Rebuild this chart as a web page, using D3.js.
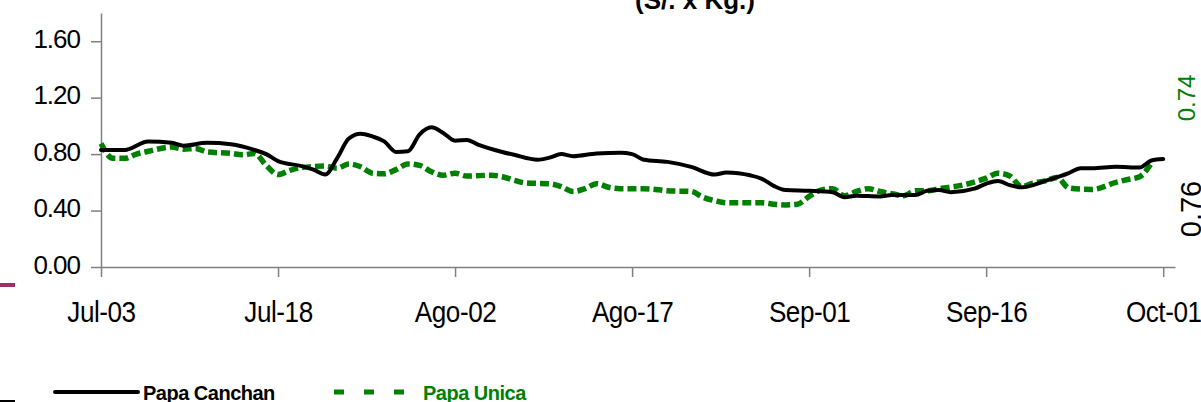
<!DOCTYPE html>
<html>
<head>
<meta charset="utf-8">
<script src="https://cdn.jsdelivr.net/npm/d3@7"></script>
<style>
  body { margin: 0; background: #fff; }
  svg { display: block; font-family: "Liberation Sans", Arial, sans-serif; }
</style>
</head>
<body>
<div id="main"></div>
<script>
// data (month-day)
const canchanDates = ['07-03','07-05','07-07','07-09','07-10','07-12','07-14','07-16','07-17','07-18',
  '07-20','07-21','07-22','07-23','07-24','07-25','07-26','07-27','07-28','07-29','07-30','07-31',
  '08-01','08-02','08-03','08-04','08-06','08-07','08-09','08-10','08-11','08-12','08-14','08-16',
  '08-17','08-18','08-20','08-22','08-24','08-25','08-26','08-27','08-28','08-29','08-30','09-01',
  '09-03','09-04','09-05','09-07','09-08','09-10','09-11','09-12','09-13','09-15','09-16','09-17',
  '09-18','09-19','09-21','09-23','09-24','09-25','09-27','09-29','09-30','10-01'];
const canchanValues = [0.83,0.83,0.89,0.88,0.86,0.88,0.87,0.83,0.80,0.75,
  0.715,0.69,0.655,0.77,0.91,0.945,0.925,0.89,0.815,0.82,0.94,0.99,
  0.95,0.895,0.90,0.865,0.815,0.795,0.76,0.775,0.80,0.785,0.805,0.81,
  0.80,0.76,0.745,0.71,0.655,0.67,0.665,0.65,0.625,0.575,0.545,0.54,
  0.53,0.495,0.505,0.50,0.51,0.51,0.54,0.545,0.53,0.555,0.59,0.61,
  0.58,0.565,0.61,0.665,0.70,0.70,0.71,0.705,0.755,0.765];

const unicaDates = ['07-03','07-04','07-05','07-06','07-07','07-09','07-10','07-11','07-12','07-14',
  '07-15','07-16','07-17','07-18','07-19','07-20','07-22','07-23','07-24','07-25','07-26','07-27',
  '07-28','07-29','07-30','07-31','08-01','08-02','08-03','08-05','08-06','08-07','08-08','08-10',
  '08-11','08-12','08-13','08-14','08-15','08-16','08-18','08-19','08-20','08-22','08-23','08-24',
  '08-25','08-27','08-28','08-29','08-30','08-31','09-01','09-02','09-03','09-04','09-05','09-06',
  '09-07','09-08','09-09','09-10','09-11','09-12','09-14','09-16','09-17','09-18','09-19','09-20',
  '09-21','09-22','09-23','09-24','09-25','09-27','09-28','09-29','09-30'];
const unicaValues = [0.875,0.77,0.77,0.80,0.82,0.85,0.835,0.84,0.815,0.805,
  0.795,0.805,0.72,0.655,0.685,0.705,0.715,0.70,0.73,0.71,0.665,0.66,
  0.69,0.73,0.72,0.675,0.65,0.665,0.645,0.65,0.64,0.615,0.595,0.59,
  0.57,0.535,0.555,0.59,0.565,0.555,0.555,0.55,0.54,0.535,0.495,0.47,
  0.455,0.455,0.455,0.445,0.44,0.445,0.50,0.545,0.555,0.505,0.535,0.555,
  0.535,0.52,0.505,0.54,0.54,0.555,0.58,0.63,0.665,0.645,0.57,0.595,
  0.61,0.635,0.56,0.552,0.55,0.60,0.62,0.64,0.735];

const tickDates = ['07-03','07-18','08-02','08-17','09-01','09-16','10-01'];
const tickLabels = ['Jul-03','Jul-18','Ago-02','Ago-17','Sep-01','Sep-16','Oct-01'];
const yTicks = [0, 0.4, 0.8, 1.2, 1.6];

const W = 1201, H = 402;
const parse = d3.timeParse('%m-%d');

const svg = d3.select('#main').append('svg')
  .attr('width', W).attr('height', H);

// scales
const x = d3.scaleTime()
  .domain([parse('07-03'), parse('10-02')])
  .range([101, 1175]);
const y = d3.scaleLinear()
  .domain([0, 1.8])
  .range([267, 13]);

// title (cut off at the top, as in the source)
svg.append('text')
  .attr('x', 695).attr('y', 9)
  .attr('text-anchor', 'middle')
  .style('font-size', '26px').style('font-weight', 'bold')
  .text('(S/. x Kg.)');

// axes
const xAxis = svg.append('g')
  .attr('transform', `translate(0,${y(0)})`)
  .call(d3.axisBottom(x)
    .tickValues(tickDates.map(parse))
    .tickFormat((d, i) => tickLabels[i])
    .tickSize(10).tickSizeOuter(0));
xAxis.selectAll('text')
  .attr('y', 55).attr('dy', null)
  .attr('transform', 'scale(0.9,1)')
  .style('font-size', '29px').style('fill', '#000')
  .style('letter-spacing', '-0.5px');

const yAxis = svg.append('g')
  .attr('transform', `translate(${x(parse('07-03'))},0)`)
  .call(d3.axisLeft(y)
    .tickValues(yTicks)
    .tickFormat(d3.format('.2f'))
    .tickSize(10).tickSizeOuter(0));
yAxis.selectAll('text')
  .attr('x', -21).attr('y', 6).attr('dy', null)
  .style('font-size', '26px').style('fill', '#000')
  .style('letter-spacing', '-1px');

svg.selectAll('.domain, .tick line')
  .attr('stroke', '#808080').attr('stroke-width', 1.5);

// lines
const line = d3.line()
  .x((d) => x(d.date))
  .y((d) => y(d.value))
  .curve(d3.curveMonotoneX);

const canchan = canchanDates.map((d, i) => ({ date: parse(d), value: canchanValues[i] }));
const unica = unicaDates.map((d, i) => ({ date: parse(d), value: unicaValues[i] }));

svg.append('path')
  .datum(unica)
  .attr('d', line)
  .attr('fill', 'none')
  .attr('stroke', '#008000')
  .attr('stroke-width', 5.5)
  .attr('stroke-dasharray', '9,4');

svg.append('path')
  .datum(canchan)
  .attr('d', line)
  .attr('fill', 'none')
  .attr('stroke', '#000')
  .attr('stroke-width', 4)
  .attr('stroke-linecap', 'round')
  .attr('stroke-linejoin', 'round');

// right-side rotated labels
svg.append('text')
  .attr('transform', 'translate(1195,98) rotate(-90)')
  .attr('text-anchor', 'middle')
  .style('font-size', '24px').style('fill', '#008000')
  .text('0.74');
svg.append('text')
  .attr('transform', 'translate(1201,209) rotate(-90)')
  .attr('text-anchor', 'middle')
  .style('font-size', '29px').style('fill', '#000')
  .text('0.76');

// stray marks at the left edge
svg.append('line')
  .attr('x1', 0).attr('x2', 15).attr('y1', 285).attr('y2', 285)
  .attr('stroke', '#993366').attr('stroke-width', 4);
svg.append('line')
  .attr('x1', 0).attr('x2', 15).attr('y1', 401).attr('y2', 401)
  .attr('stroke', '#000').attr('stroke-width', 2);

// legend
const legend = svg.append('g');
legend.append('line')
  .attr('x1', 55).attr('x2', 138).attr('y1', 392).attr('y2', 392)
  .attr('stroke', '#000').attr('stroke-width', 4).attr('stroke-linecap', 'round');
legend.append('text')
  .attr('x', 143).attr('y', 400)
  .style('font-size', '20px').style('font-weight', 'bold')
  .style('letter-spacing', '-0.5px')
  .text('Papa Canchan');
legend.append('line')
  .attr('x1', 334).attr('x2', 404).attr('y1', 392).attr('y2', 392)
  .attr('stroke', '#008000').attr('stroke-width', 5)
  .attr('stroke-dasharray', '10,20');
legend.append('text')
  .attr('x', 423).attr('y', 400)
  .style('font-size', '20px').style('font-weight', 'bold')
  .style('fill', '#008000')
  .style('letter-spacing', '-0.5px')
  .text('Papa Unica');
</script>
</body>
</html>
